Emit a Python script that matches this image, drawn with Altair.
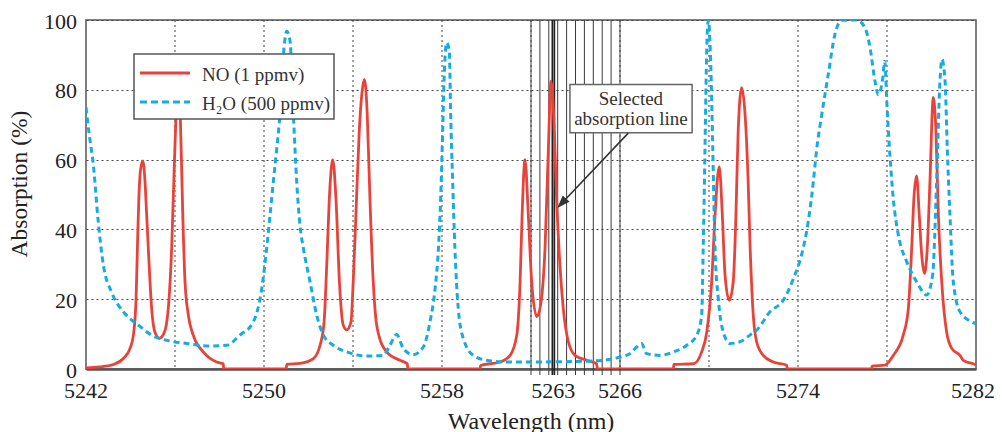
import altair as alt
import pandas as pd

# ---------------- data ----------------
NO_WL = [5242.00, 5242.60, 5243.23, 5243.68, 5243.98, 5244.13, 5244.25, 5244.31, 5244.37, 5244.45,
         5244.55, 5244.65, 5244.72, 5244.80, 5244.95, 5245.10, 5245.30, 5245.50, 5245.62, 5245.72,
         5245.85, 5245.97, 5246.07, 5246.15, 5246.24, 5246.35, 5246.45, 5246.60, 5246.82, 5247.27,
         5247.87, 5248.17, 5248.19, 5251.00, 5251.02, 5251.62, 5252.22, 5252.52, 5252.70, 5252.82,
         5252.93, 5253.09, 5253.24, 5253.39, 5253.56, 5253.72, 5253.91, 5254.01, 5254.13, 5254.28,
         5254.40, 5254.51, 5254.64, 5254.76, 5254.91, 5255.09, 5255.51, 5256.11, 5256.44, 5256.47,
         5259.71, 5259.73, 5260.61, 5261.06, 5261.36, 5261.51, 5261.60, 5261.73, 5261.88, 5262.03,
         5262.26, 5262.43, 5262.63, 5262.78, 5262.90, 5263.05, 5263.15, 5263.30, 5263.45, 5263.68,
         5263.98, 5264.50, 5264.95, 5264.98, 5268.40, 5268.42, 5269.30, 5269.67, 5269.90, 5270.12,
         5270.27, 5270.46, 5270.60, 5270.72, 5270.91, 5271.09, 5271.21, 5271.31, 5271.47, 5271.62,
         5271.76, 5271.84, 5271.99, 5272.14, 5272.44, 5272.89, 5273.49, 5273.52, 5277.31, 5277.33,
         5277.91, 5278.28, 5278.73, 5278.96, 5279.11, 5279.21, 5279.33, 5279.45, 5279.56, 5279.68,
         5279.81, 5279.93, 5280.08, 5280.20, 5280.31, 5280.46, 5280.68, 5280.91, 5281.28, 5281.43,
         5281.96, 5282.00]
NO_ABS = [0.3, 0.6, 1.3, 3.0, 5.9, 9.7, 20.0, 34.6, 48.0, 57.0,
          59.6, 54.0, 45.0, 34.6, 17.4, 10.5, 8.8, 10.2, 13.0, 19.0,
          34.6, 58.5, 76.0, 83.0, 72.0, 44.0, 25.0, 15.4, 9.7, 4.9,
          2.0, 1.5, 0.0, 0.0, 1.3, 1.6, 3.0, 6.8, 13.5, 29.8,
          48.0, 60.0, 48.0, 25.0, 12.6, 11.2, 13.5, 25.0, 44.0, 68.0,
          79.0, 83.0, 73.0, 49.0, 25.0, 11.6, 4.9, 2.5, 1.5, 0.0,
          0.0, 1.0, 2.0, 3.9, 9.7, 25.0, 44.0, 60.0, 44.0, 25.0,
          15.0, 18.3, 34.6, 63.0, 82.5, 68.0, 49.0, 29.8, 17.4, 7.8,
          3.9, 2.5, 1.5, 0.0, 0.0, 1.3, 1.5, 4.9, 10.6, 25.0,
          44.0, 58.0, 44.0, 27.0, 19.7, 25.0, 44.0, 68.0, 80.6, 73.0,
          53.7, 36.5, 15.4, 7.8, 3.9, 2.0, 1.1, 0.0, 0.0, 0.8,
          1.1, 3.9, 9.7, 17.4, 34.6, 49.0, 55.3, 44.0, 32.7, 27.4,
          34.6, 53.7, 77.8, 68.0, 44.0, 25.0, 10.6, 5.9, 3.9, 2.5,
          1.3, 1.2]

H2O_WL = [5242.00, 5242.15, 5242.33, 5242.55, 5242.78, 5243.15, 5243.68, 5244.35, 5244.95, 5245.63,
          5246.53, 5247.42, 5248.32, 5248.92, 5249.52, 5249.90, 5250.12, 5250.27, 5250.42, 5250.57,
          5250.72, 5250.90, 5251.02, 5251.17, 5251.32, 5251.47, 5251.62, 5251.77, 5252.07, 5252.37,
          5252.67, 5253.11, 5253.72, 5254.62, 5255.36, 5255.66, 5255.96, 5256.26, 5256.71, 5257.16,
          5257.46, 5257.69, 5257.84, 5257.94, 5258.03, 5258.09, 5258.21, 5258.33, 5258.39, 5258.48,
          5258.58, 5258.73, 5258.96, 5259.41, 5260.01, 5260.91, 5262.00, 5263.50, 5264.80, 5266.00,
          5266.45, 5266.75, 5266.97, 5267.20, 5267.80, 5268.40, 5269.00, 5269.45, 5269.67, 5269.74,
          5269.82, 5269.90, 5269.97, 5270.08, 5270.17, 5270.27, 5270.42, 5270.64, 5270.94, 5271.39,
          5271.84, 5272.14, 5272.74, 5273.34, 5273.80, 5274.16, 5274.46, 5274.69, 5274.84, 5275.07,
          5275.36, 5275.66, 5275.96, 5276.63, 5277.01, 5277.24, 5277.46, 5277.61, 5277.81, 5277.90,
          5277.99, 5278.13, 5278.28, 5278.51, 5278.89, 5279.33, 5279.78, 5280.05, 5280.23, 5280.38,
          5280.47, 5280.61, 5280.71, 5280.83, 5280.98, 5281.28, 5281.81, 5282.00]
H2O_ABS = [75.0, 67.0, 58.5, 42.2, 29.8, 22.0, 16.4, 12.6, 9.7, 8.2,
           7.3, 6.6, 6.8, 9.7, 13.5, 23.1, 34.6, 44.0, 53.7, 63.0,
           73.0, 92.0, 96.8, 94.0, 73.0, 53.7, 41.0, 34.6, 25.0, 15.4,
           9.7, 6.8, 4.9, 3.7, 3.9, 6.8, 9.9, 5.9, 4.1, 6.3,
           13.5, 23.1, 34.6, 49.0, 68.0, 82.5, 93.5, 91.0, 73.0, 53.7,
           34.6, 17.4, 8.7, 3.9, 2.5, 2.0, 2.0, 2.1, 2.3, 3.4,
           4.4, 6.3, 7.3, 4.4, 3.9, 4.9, 6.8, 9.7, 15.4, 34.6,
           63.0, 92.0, 100.0, 87.0, 63.0, 34.6, 20.0, 10.6, 7.3, 7.8,
           9.7, 11.1, 16.4, 19.7, 26.0, 32.7, 42.2, 53.7, 63.0, 73.0,
           84.4, 95.9, 99.9, 100.0, 97.8, 92.0, 82.5, 78.6, 83.4, 88.2,
           76.7, 61.4, 49.0, 38.4, 30.7, 25.0, 21.2, 26.9, 53.7, 82.5,
           88.7, 82.5, 63.0, 44.0, 25.0, 16.4, 13.5, 13.0]

SERIES = ["NO (1 ppmv)", "H₂O (500 ppmv)"]
X_TITLE = "Wavelength (nm)"
Y_TITLE = "Absorption (%)"
X_TICKS = [5242, 5250, 5258, 5263, 5266, 5274, 5282]
X_GRID = [5246, 5250, 5254, 5258, 5262, 5266, 5270, 5274, 5278]
Y_TICKS = [0, 20, 40, 60, 80, 100]
CHANNELS = [5262.0, 5262.4, 5262.8, 5263.2, 5263.6, 5264.0, 5264.4, 5264.8, 5265.2, 5265.6, 5266.0]
SELECTED = [5262.96, 5263.05]
NOTE_TEXT = ["Selected", "absorption line"]
NOTE_BOX = {"x": 5263.75, "x2": 5269.24, "y": 81.5, "y2": 67.7}
NOTE_TEXT_POS = {"x": [5266.49, 5266.49], "y": [77.3, 71.6]}
ARROW = {"x": 5266.37, "y": 67.6, "x2": 5263.50, "y2": 48.3, "tipx": 5263.18, "tipy": 46.1}

# ---------------- style ----------------
W, H = 890, 349
FONT = "Times New Roman, Times, Liberation Serif, DejaVu Serif, serif"
RED = "#E8433B"
BLUE = "#17ABE2"
DARK = "#333333"
TXT = "#222222"

x_scale = alt.Scale(domain=[5242, 5282], nice=False, zero=False)
y_scale = alt.Scale(domain=[0, 100], nice=False, zero=False)

# axes keep only the frame line / grid; their texts are drawn as text marks (serif font)
X_AXIS = alt.Axis(values=X_TICKS, grid=False, ticks=False, labels=False, title=None,
                  domainColor="#555555", domainWidth=2.5)
Y_AXIS = alt.Axis(values=Y_TICKS, grid=True, gridDash=[2, 3], gridColor="#444444", gridWidth=1,
                  ticks=False, labels=False, domain=False, title=None)

no_df = pd.DataFrame({"wl": NO_WL, "a": NO_ABS})
h2o_df = pd.DataFrame({"wl": H2O_WL, "a": H2O_ABS})
one = pd.DataFrame({"k": [0]})
xt_df = pd.DataFrame({"v": X_TICKS})
yt_df = pd.DataFrame({"v": Y_TICKS})

grid = alt.Chart(pd.DataFrame({"g": X_GRID})).mark_rule(
    strokeDash=[2, 3], color="#444444", strokeWidth=1
).encode(x=alt.X("g:Q", scale=x_scale, axis=X_AXIS))

channels = alt.Chart(pd.DataFrame({"c": CHANNELS})).mark_rule(
    color="#3a3a3a", strokeWidth=1
).encode(x=alt.X("c:Q", scale=x_scale, axis=X_AXIS), y=alt.value(0), y2=alt.value(H + 6))

selected = alt.Chart(pd.DataFrame({"c": SELECTED})).mark_rule(
    color="#222222", strokeWidth=1.7
).encode(x=alt.X("c:Q", scale=x_scale, axis=X_AXIS), y=alt.value(0), y2=alt.value(H + 6))

no_line = alt.Chart(no_df).mark_line(
    color=RED, strokeWidth=2.8, interpolate="monotone", clip=True
).encode(x=alt.X("wl:Q", scale=x_scale, axis=X_AXIS), y=alt.Y("a:Q", scale=y_scale, axis=Y_AXIS))

h2o_line = alt.Chart(h2o_df).mark_line(
    color=BLUE, strokeWidth=3, strokeDash=[6, 4], interpolate="monotone", clip=True
).encode(x=alt.X("wl:Q", scale=x_scale, axis=X_AXIS), y=alt.Y("a:Q", scale=y_scale, axis=Y_AXIS))

# tick labels and axis titles
x_labels = alt.Chart(xt_df).transform_filter("datum.v < 5282").mark_text(
    font=FONT, fontSize=22, color=TXT, align="center", baseline="alphabetic"
).encode(x=alt.X("v:Q", scale=x_scale, axis=X_AXIS), y=alt.value(H + 29),
         text=alt.Text("v:Q", format="d"))
x_label_last = alt.Chart(xt_df).transform_filter("datum.v >= 5282").mark_text(
    font=FONT, fontSize=22, color=TXT, align="center", baseline="alphabetic", dx=-3
).encode(x=alt.X("v:Q", scale=x_scale, axis=X_AXIS), y=alt.value(H + 29),
         text=alt.Text("v:Q", format="d"))
y_labels = alt.Chart(yt_df).mark_text(
    font=FONT, fontSize=22, color=TXT, align="right", baseline="alphabetic", dy=8.5
).encode(x=alt.value(-9), y=alt.Y("v:Q", scale=y_scale, axis=Y_AXIS),
         text=alt.Text("v:Q", format="d"))
x_title = alt.Chart(one).mark_text(
    font=FONT, fontSize=24, color=TXT, align="center", baseline="alphabetic", text=X_TITLE
).encode(x=alt.value(W / 2), y=alt.value(H + 60))
y_title = alt.Chart(one).mark_text(
    font=FONT, fontSize=23.5, color=TXT, align="center", baseline="alphabetic", angle=270,
    text=Y_TITLE
).encode(x=alt.value(-59), y=alt.value(164))

# annotation
note_box = alt.Chart(pd.DataFrame([NOTE_BOX])).mark_rect(
    fill="white", stroke="#666666", strokeWidth=1.5
).encode(x=alt.X("x:Q", scale=x_scale, axis=X_AXIS), x2="x2:Q",
         y=alt.Y("y:Q", scale=y_scale, axis=Y_AXIS), y2="y2:Q")

note_text = alt.Chart(pd.DataFrame({"t": NOTE_TEXT, **NOTE_TEXT_POS})).mark_text(
    font=FONT, fontSize=19, color="#333333", align="center", baseline="middle"
).encode(x=alt.X("x:Q", scale=x_scale, axis=X_AXIS), y=alt.Y("y:Q", scale=y_scale, axis=Y_AXIS), text="t:N")

arrow_line = alt.Chart(pd.DataFrame([ARROW])).mark_rule(color=DARK, strokeWidth=1.6).encode(
    x=alt.X("x:Q", scale=x_scale, axis=X_AXIS), x2="x2:Q",
    y=alt.Y("y:Q", scale=y_scale, axis=Y_AXIS), y2="y2:Q")

arrow_head = alt.Chart(pd.DataFrame([ARROW])).mark_point(
    shape="M0,0L-0.36,1L0.36,1Z", angle=223, size=676, filled=True, color=DARK, opacity=1,
    strokeWidth=0
).encode(x=alt.X("tipx:Q", scale=x_scale, axis=X_AXIS), y=alt.Y("tipy:Q", scale=y_scale, axis=Y_AXIS))

# legend (drawn by hand, pixel positions inside plot area)
leg_box = alt.Chart(one).mark_rect(fill="white", stroke="#555555", strokeWidth=1.5).encode(
    x=alt.value(48), x2=alt.value(248), y=alt.value(34), y2=alt.value(99))
leg_red = alt.Chart(one).mark_rule(color=RED, strokeWidth=2.8).encode(
    x=alt.value(54), x2=alt.value(104), y=alt.value(53))
leg_blue = alt.Chart(one).mark_rule(color=BLUE, strokeWidth=3, strokeDash=[7, 4]).encode(
    x=alt.value(54), x2=alt.value(104), y=alt.value(82))
leg_t1 = alt.Chart(one).mark_text(font=FONT, fontSize=19, color="#333333", align="left",
                                  baseline="middle", text=SERIES[0]).encode(
    x=alt.value(116), y=alt.value(55))
leg_t2 = alt.Chart(one).mark_text(font=FONT, fontSize=19, color="#333333", align="left",
                                  baseline="middle", text=SERIES[1]).encode(
    x=alt.value(116), y=alt.value(84))

chart = alt.layer(
    grid, channels, selected, no_line, h2o_line,
    x_labels, x_label_last, y_labels, x_title, y_title,
    note_box, note_text, arrow_line, arrow_head,
    leg_box, leg_red, leg_blue, leg_t1, leg_t2
).properties(
    width=W, height=H,
    autosize=alt.AutoSizeParams(type="none"),
    padding={"left": 78, "top": 12, "right": 18, "bottom": 63},
    background="white",
).configure_view(
    stroke="#555555", strokeWidth=1.5
)

chart.save("out.html", embed_options={"renderer": "svg", "actions": False})
